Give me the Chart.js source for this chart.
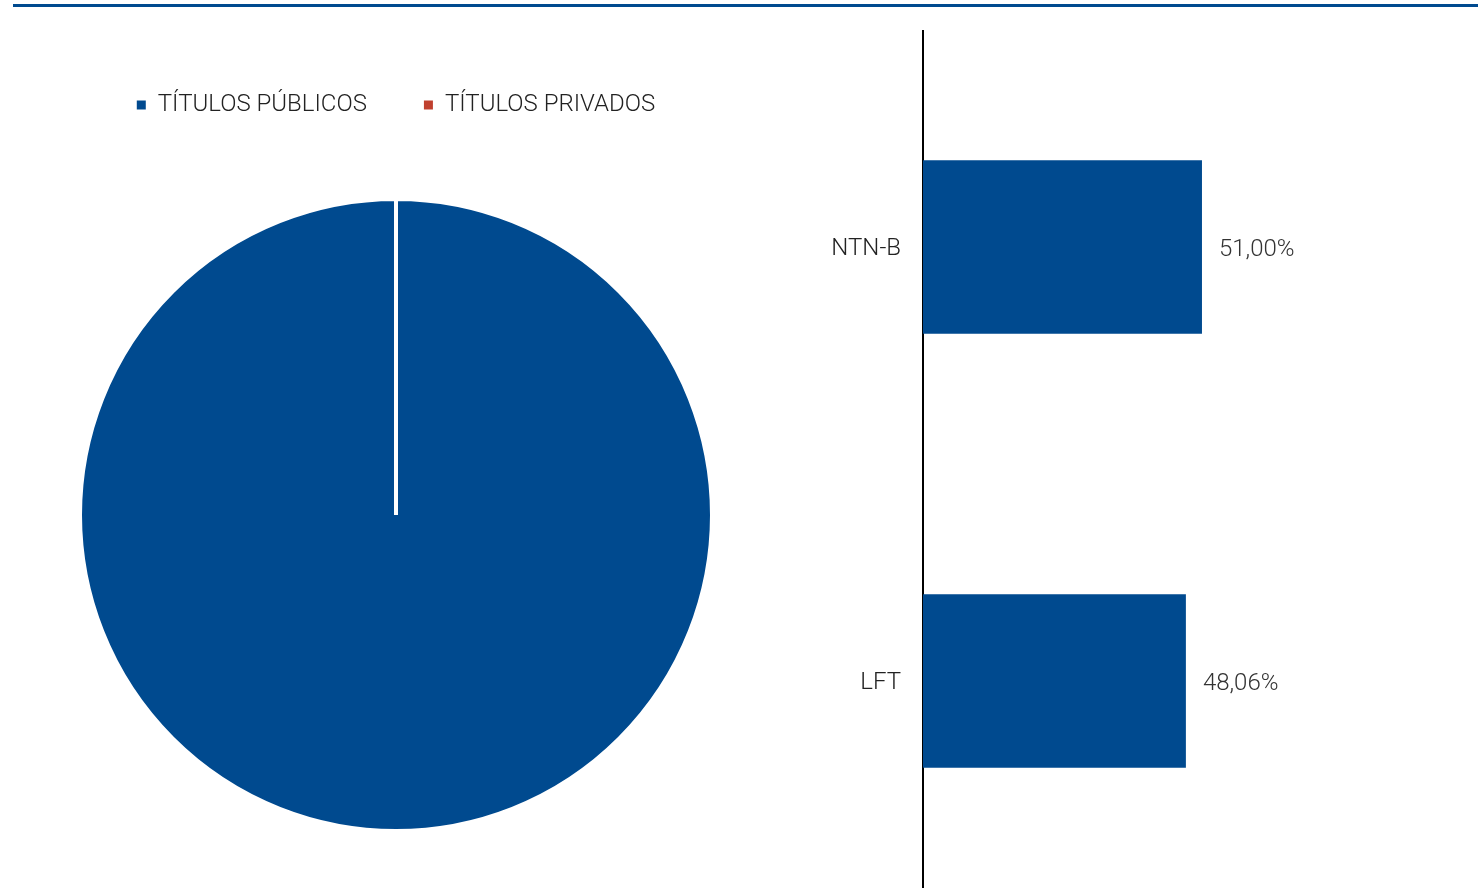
<!DOCTYPE html>
<html>
<head>
<meta charset="utf-8">
<script src="https://cdn.jsdelivr.net/npm/chart.js@4/dist/chart.umd.min.js"></script>
<style>
    html, body { margin: 0; padding: 0; background: #fff; overflow: hidden; width: 1478px; height: 888px; }
    .topline { position: absolute; left: 13px; top: 4px; width: 1465px; height: 3px; background: #004a8f; }
    #pieChart { position: absolute; left: 78px; top: 0px; }
    #barChart { position: absolute; left: 801px; top: 30px; }
</style>
</head>
<body>
<div class="topline"></div>
<canvas id="pieChart" width="636" height="903"></canvas>
<canvas id="barChart" width="678" height="868"></canvas>
<script>
var pieLabels = ["TÍTULOS PÚBLICOS", "TÍTULOS PRIVADOS"];
var pieValues = [100, 0];
var pieColors = ["#004a8f", "#c0402e"];

var barLabels = ["NTN-B", "LFT"];
var barValues = [51.00, 48.06];

var fontFamily = "Roboto, 'Noto Sans', sans-serif";

Chart.defaults.font.family = fontFamily;
Chart.defaults.color = "#222";

var pieChart = new Chart(document.getElementById("pieChart"), {
    type: 'pie',
    data: {
        labels: pieLabels,
        datasets: [
            {
                data: pieValues,
                backgroundColor: pieColors,
                borderColor: "#ffffff",
                borderWidth: 4
            }
        ]
    },
    options: {
        responsive: false,
        animation: false,
        layout: { padding: { top: 36, bottom: 0 } },
        plugins: {
            tooltip: { enabled: false },
            legend: {
                position: 'top',
                labels: {
                    boxWidth: 9,
                    boxHeight: 9,
                    padding: 57,
                    color: "#222",
                    font: { size: 24, weight: '300' },
                    generateLabels: function (chart) {
                        var items = Chart.controllers.pie.overrides.plugins.legend.labels.generateLabels(chart);
                        items.forEach(function (it) { it.lineWidth = 0; });
                        return items;
                    }
                }
            }
        }
    }
});

// etiqueta de valor ao lado de cada barra
var valueLabels = {
    id: 'valueLabels',
    afterDatasetsDraw: function (chart) {
        var ctx = chart.ctx;
        var meta = chart.getDatasetMeta(0);
        ctx.save();
        ctx.font = "300 24px " + fontFamily;
        ctx.fillStyle = "#333";
        ctx.textAlign = "left";
        ctx.textBaseline = "middle";
        meta.data.forEach(function (bar, i) {
            var txt = barValues[i].toFixed(2).replace('.', ',') + '%';
            ctx.fillText(txt, bar.x + 17, bar.y + 3);
        });
        ctx.restore();
    }
};

var barChart = new Chart(document.getElementById("barChart"), {
    type: 'bar',
    data: {
        labels: barLabels,
        datasets: [
            {
                data: barValues,
                backgroundColor: "#004a8f",
                categoryPercentage: 1,
                barPercentage: 0.4
            }
        ]
    },
    options: {
        indexAxis: 'y',
        responsive: false,
        animation: false,
        layout: { padding: { right: 9, top: 0, bottom: 0 } },
        plugins: {
            legend: { display: false },
            tooltip: { enabled: false }
        },
        scales: {
            x: {
                display: false,
                min: 0,
                max: 100
            },
            y: {
                afterFit: function (scale) {
                    scale.width = 122;
                    scale.paddingTop = 0;
                    scale.paddingBottom = 0;
                },
                grid: { display: false, drawTicks: false },
                border: { display: true, color: "#000", width: 2 },
                ticks: {
                    padding: 22,
                    labelOffset: 2,
                    color: "#222",
                    font: { size: 24, weight: '300' }
                }
            }
        }
    },
    plugins: [valueLabels]
});
</script>
</body>
</html>
